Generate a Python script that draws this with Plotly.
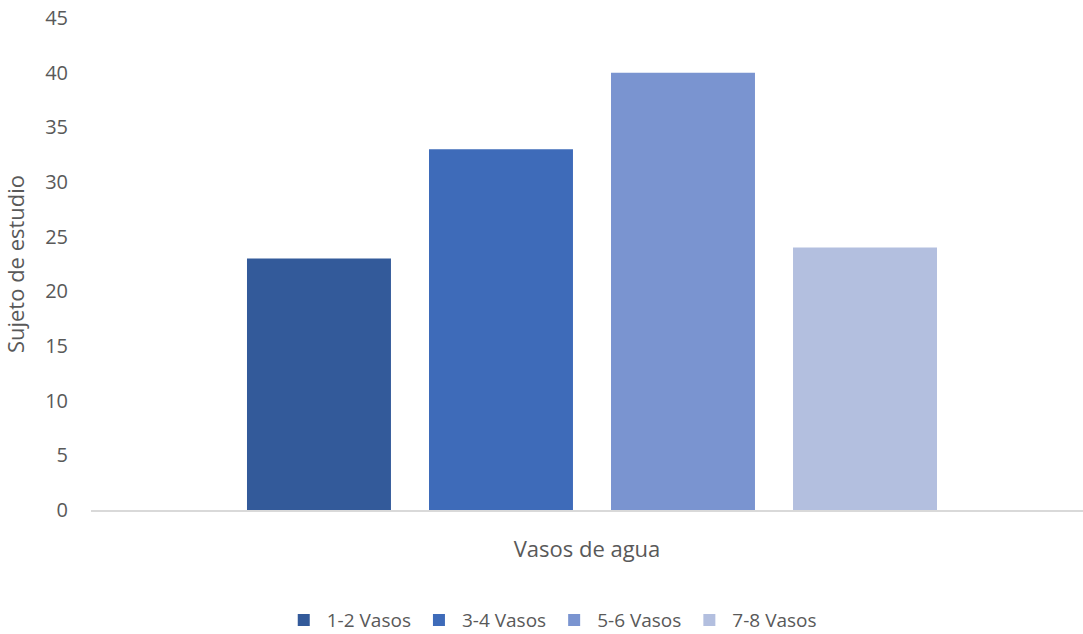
import plotly.graph_objects as go

# Water intake groups and number of subjects in each
series_names = ["1-2 Vasos", "3-4 Vasos", "5-6 Vasos", "7-8 Vasos"]
subjects = [23, 33, 40, 24]
colors = ["#335A9A", "#3E6BB9", "#7A94D0", "#B3BFDF"]

y_ticks = list(range(0, 50, 5))

fig = go.Figure()
for name, val, col in zip(series_names, subjects, colors):
    fig.add_trace(go.Bar(
        x=[0], y=[val], name=name,
        marker=dict(color=col, line=dict(width=0)),
        hoverinfo="y+name",
    ))

font_family = "Open Sans, DejaVu Sans, sans-serif"
text_color = "#595959"

fig.update_layout(
    width=1083, height=634,
    paper_bgcolor="white", plot_bgcolor="white",
    margin=dict(l=91, r=0, t=18, b=124),
    barmode="group",
    bargap=0.3,
    bargroupgap=0.209,
    font=dict(family=font_family, color=text_color, size=20),
    showlegend=True,
    legend=dict(
        orientation="h",
        xref="container", yref="container",
        x=0.509, xanchor="center",
        y=0.022, yanchor="middle",
        font=dict(size=19, color=text_color),
        itemsizing="constant",
        itemwidth=36,
        traceorder="normal",
    ),
    xaxis=dict(
        range=[-0.4817, 0.4721],
        showticklabels=False,
        ticks="",
        showgrid=False,
        zeroline=False,
        showline=True,
        linecolor="#D9D9D9",
        linewidth=2,
        title=dict(text="Vasos de agua", font=dict(size=22, color=text_color), standoff=31),
        fixedrange=True,
    ),
    yaxis=dict(
        range=[0, 45],
        tickvals=y_ticks,
        showgrid=False,
        zeroline=False,
        showline=False,
        ticks="",
        ticklabelstandoff=22,
        tickfont=dict(size=20, color=text_color),
        title=dict(text="Sujeto de estudio", font=dict(size=22, color=text_color), standoff=14),
        fixedrange=True,
    ),
)

fig.write_html("out.html")
